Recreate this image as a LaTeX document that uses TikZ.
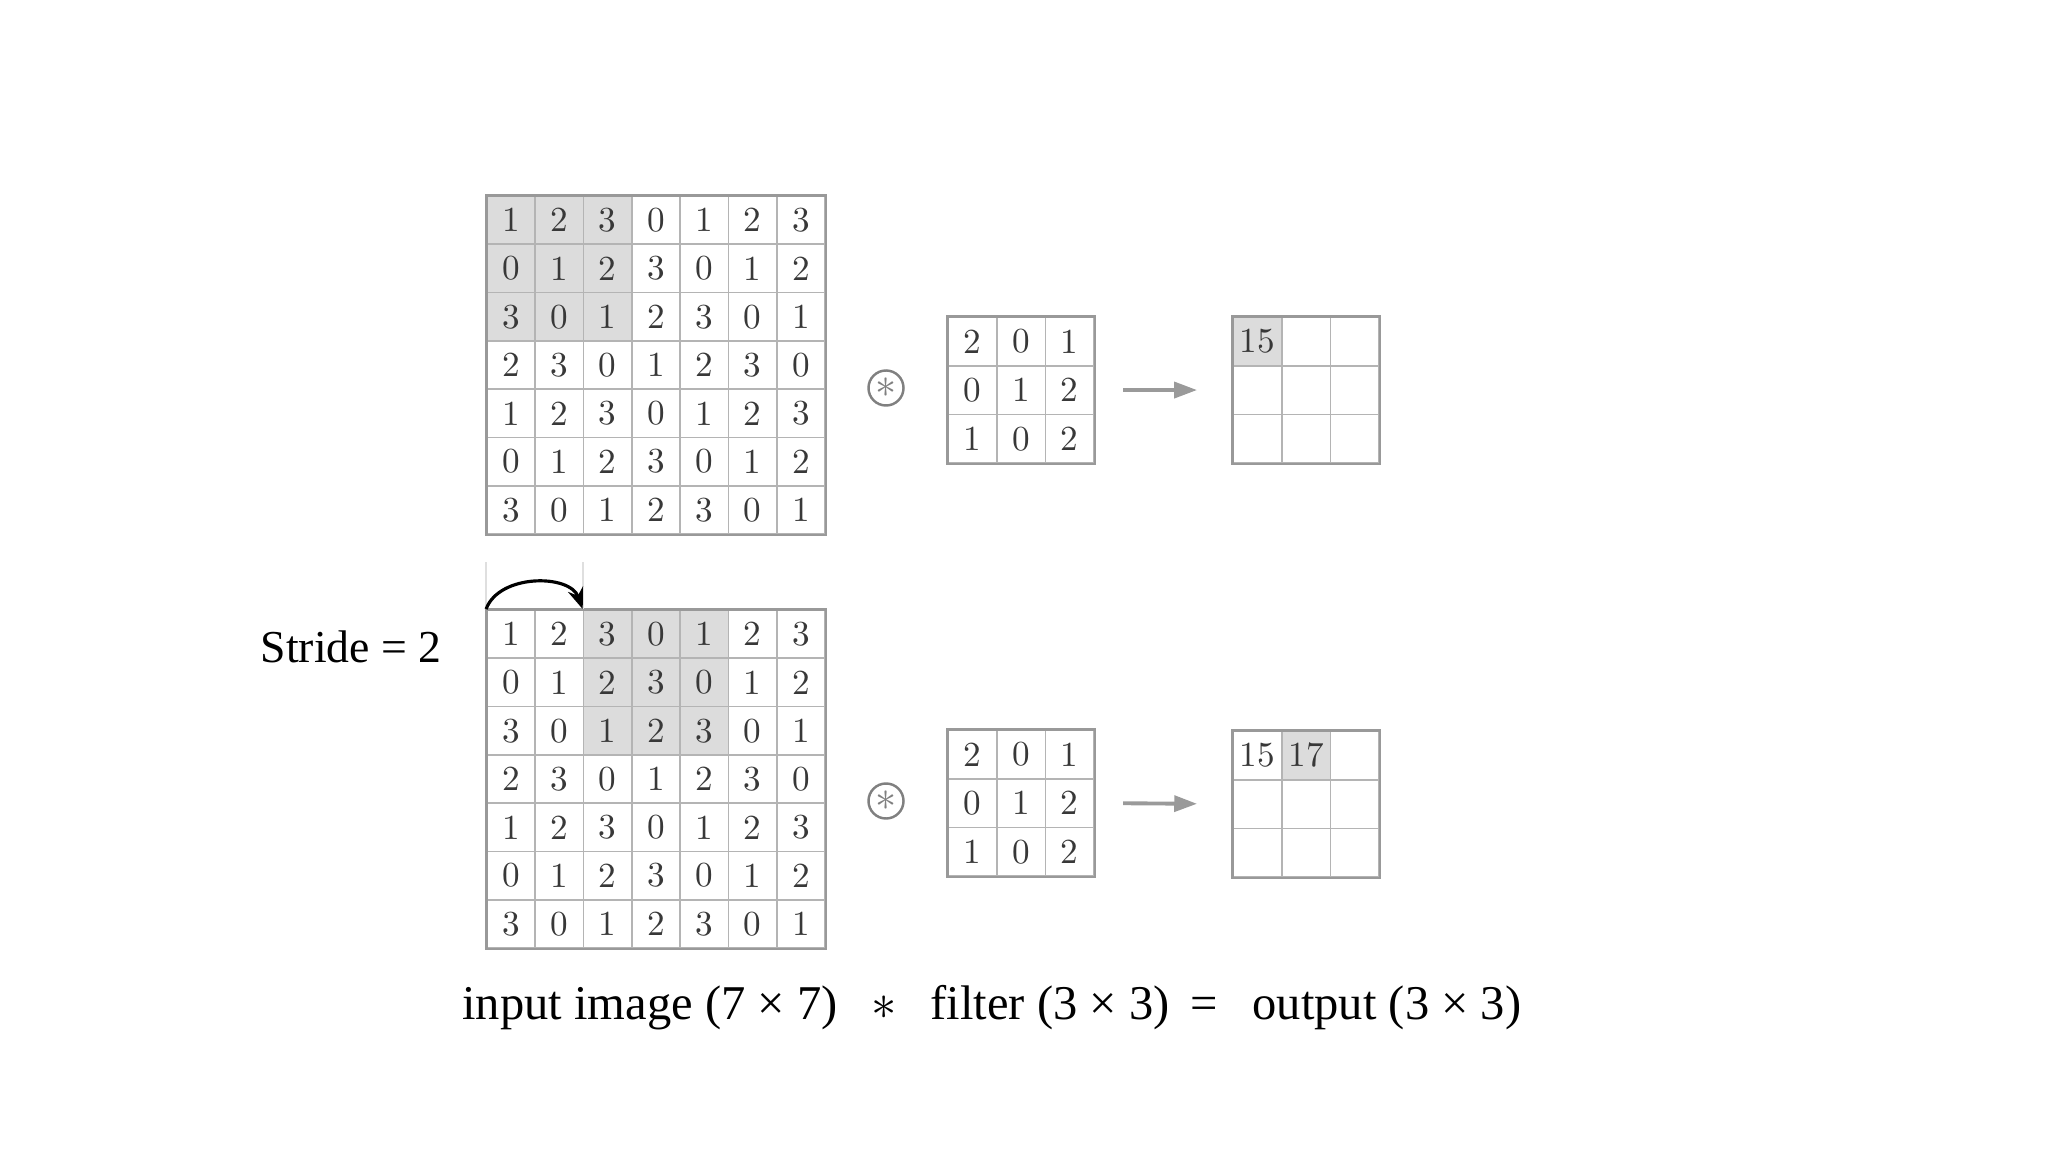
\documentclass[tikz,border=0pt]{standalone}
\usepackage{fontspec}
\usepackage{tikz}
\usetikzlibrary{arrows.meta, positioning, backgrounds}

\newfontfamily\labelfont{Liberation Serif}
\definecolor{gridline}{HTML}{B4B4B4}
\definecolor{gridframe}{HTML}{999999}
\definecolor{cellshade}{HTML}{DCDCDC}
\definecolor{digit}{HTML}{383838}
\definecolor{flowgray}{HTML}{9A9A9A}

\begin{document}
\begin{tikzpicture}[
    x=0.01cm, y=-0.01cm,
    cell/.style={draw=gridline, line width=0.5pt, minimum width=0.483cm, minimum height=0.483cm, inner sep=0pt, text=digit},
    fcell/.style={cell, minimum width=0.487cm, minimum height=0.487cm},
    frame/.style={draw=gridframe, line width=0.8pt},
    convop/.style={draw=gray, circle, line width=0.7pt, minimum size=0.35cm, inner sep=0pt, text=gray, font=\large},
    flow/.style={draw=flowgray, line width=1.1pt, -{Triangle[length=6.5pt, width=4.5pt]}},
    caption/.style={font=\labelfont\fontsize{13.8}{16}\selectfont, anchor=base}
]
\useasboundingbox (0,0) rectangle (2048,1152);

% input images (7x7), top and bottom
\foreach \g/\yy in {a/196, b/610} {
  \foreach \row [count=\r] in {{1,2,3,0,1,2,3},{0,1,2,3,0,1,2},{3,0,1,2,3,0,1},{2,3,0,1,2,3,0},{1,2,3,0,1,2,3},{0,1,2,3,0,1,2},{3,0,1,2,3,0,1}} {
    \foreach \v [count=\c] in \row {
      \node[cell] (\g-\r-\c) at ({487+(\c-0.5)*48.3}, {\yy+(\r-0.5)*48.3}) {\v};
    }
  }
  \draw[frame] (\g-1-1.north west) rectangle (\g-7-7.south east);
}

% filters (3x3)
\foreach \g/\yy in {fa/317, fb/730} {
  \foreach \row [count=\r] in {{2,0,1},{0,1,2},{1,0,2}} {
    \foreach \v [count=\c] in \row {
      \node[fcell] (\g-\r-\c) at ({948+(\c-0.5)*48.7}, {\yy+(\r-0.5)*48.7}) {\v};
    }
  }
  \draw[frame] (\g-1-1.north west) rectangle (\g-3-3.south east);
}

% outputs (3x3)
\foreach \g/\yy/\first in {oa/317/{{15,{},{}},{{},{},{}},{{},{},{}}}, ob/731/{{15,17,{}},{{},{},{}},{{},{},{}}}} {
  \foreach \row [count=\r] in \first {
    \foreach \v [count=\c] in \row {
      \node[fcell] (\g-\r-\c) at ({1233+(\c-0.5)*48.7}, {\yy+(\r-0.5)*48.7}) {\v};
    }
  }
  \draw[frame] (\g-1-1.north west) rectangle (\g-3-3.south east);
}

% shaded windows
\begin{scope}[on background layer]
  \fill[cellshade] (a-1-1.north west) rectangle (a-3-3.south east);
  \fill[cellshade] (b-1-3.north west) rectangle (b-3-5.south east);
  \fill[cellshade] (oa-1-1.north west) rectangle (oa-1-1.south east);
  \fill[cellshade] (ob-1-2.north west) rectangle (ob-1-2.south east);
\end{scope}

% operators and arrows
\node[convop] (conva) at (886,388) {$\ast$};
\node[convop] (convb) at (886,801) {$\ast$};
\draw[flow, shorten <=0.28cm, shorten >=0.35cm] (fa-2-3.east) -- (oa-2-1.west);
\draw[flow, shorten <=0.28cm, shorten >=0.35cm] (fb-2-3.east) -- (ob-2-1.west);

% stride step
\draw[gray!25, line width=0.5pt] (b-1-1.north west) -- ++(0,-47);
\draw[gray!25, line width=0.5pt] (b-1-3.north west) -- ++(0,-47);
\draw[-{Stealth[length=6pt]}, line width=0.9pt, bend left=70] (b-1-1.north west) to (b-1-3.north west);
\node[font=\labelfont\fontsize{13}{15}\selectfont] (stride) at (351,647) {Stride = 2};

% caption
\node[caption] (capin) at (650,1019) {input image (7 × 7)};
\node[caption] (capast) at (884,1019) {$\ast$};
\node[caption] (capfilt) at (1050,1019) {filter (3 × 3)};
\node[caption] (capeq) at (1204,1019) {=};
\node[caption] (capout) at (1387,1019) {output (3 × 3)};

\end{tikzpicture}
\end{document}
